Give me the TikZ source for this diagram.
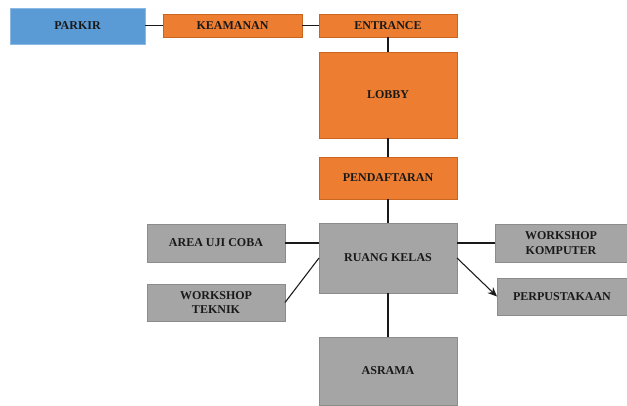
\documentclass[tikz,border=0pt]{standalone}
\usepackage{fontspec}
\setmainfont{Liberation Serif}
\usetikzlibrary{arrows.meta}
\definecolor{boxblue}{HTML}{5B9BD5}
\definecolor{boxblueline}{HTML}{8DB8E2}
\definecolor{boxorange}{HTML}{ED7D31}
\definecolor{boxorangeline}{HTML}{C9651F}
\definecolor{boxgray}{HTML}{A5A5A5}
\definecolor{boxgrayline}{HTML}{8C8C8C}
\tikzset{
  room/.style={rectangle, inner sep=0pt, outer sep=0pt, line width=0.6pt,
    align=center, font=\fontsize{9}{11}\selectfont\bfseries, text=black!90},
  bluebox/.style={room, fill=boxblue, draw=boxblueline},
  orangebox/.style={room, fill=boxorange, draw=boxorangeline},
  graybox/.style={room, fill=boxgray, draw=boxgrayline},
  link/.style={line width=0.8pt, draw=black!90},
  flow/.style={link, -{Stealth[length=7pt,width=6pt]}}
}
\begin{document}
\begin{tikzpicture}[x=0.75pt,y=-0.75pt]
\useasboundingbox (0,0) rectangle (627,405);

% entrance route
\node[bluebox, minimum width=101.25pt, minimum height=27pt] (parkir) at (77.5,26) {PARKIR};
\node[orangebox, minimum width=104.25pt, minimum height=17.25pt] (keamanan) at (232.5,25.5) {KEAMANAN};
\node[orangebox, minimum width=103.5pt, minimum height=17.25pt] (entrance) at (388,25.5) {ENTRANCE};
\node[orangebox, minimum width=103.5pt, minimum height=64.5pt] (lobby) at (388,95) {LOBBY};
\node[orangebox, minimum width=103.5pt, minimum height=31.5pt] (daftar) at (388,178) {PENDAFTARAN};

% teaching area
\node[graybox, minimum width=103.5pt, minimum height=52.5pt] (kelas) at (388,258) {RUANG KELAS};
\node[graybox, minimum width=103.5pt, minimum height=28.5pt] (uji) at (216,243) {AREA UJI COBA};
\node[graybox, minimum width=103.5pt, minimum height=27.75pt] (teknik) at (216,302.5) {WORKSHOP\\TEKNIK};
\node[graybox, minimum width=99pt, minimum height=28.5pt] (komputer) at (561,243) {WORKSHOP\\KOMPUTER};
\node[graybox, minimum width=97.5pt, minimum height=27.75pt] (pustaka) at (562,296.5) {PERPUSTAKAAN};
\node[graybox, minimum width=103.5pt, minimum height=51pt] (asrama) at (388,371) {ASRAMA};

% connectors
\draw[link] (keamanan.west -| parkir.east) -- (keamanan.west);
\draw[link] (keamanan.east) -- (entrance.west);
\draw[link] (entrance.south) -- (lobby.north);
\draw[link] (lobby.south) -- (daftar.north);
\draw[link] (daftar.south) -- (kelas.north);
\draw[link] (uji.east) -- (kelas.west |- uji.east);
\draw[link] (teknik.east) -- (kelas.west);
\draw[link] (kelas.east |- komputer.west) -- (komputer.west);
\draw[flow] (kelas.east) -- (pustaka.west);
\draw[link] (kelas.south) -- (asrama.north);
\end{tikzpicture}
\end{document}
